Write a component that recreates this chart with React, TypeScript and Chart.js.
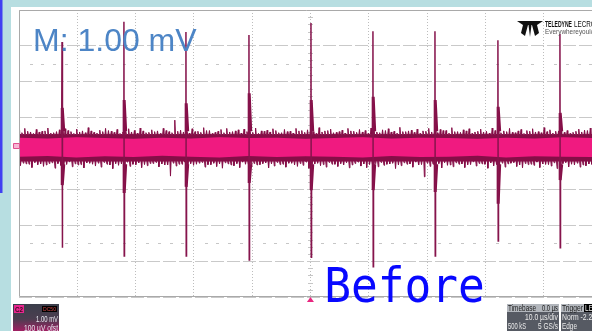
import { useEffect, useRef } from 'react';
import { Chart, registerables } from 'chart.js';

Chart.register(...registerables);

// ---- data (time in µs, amplitude in divisions of 1 mV) ----
const timeMaxUs = 98.3;
const gridStepUs = 10;
const hairStepUs = 0.99;

const upperHairPeaks = [
  0.64, 0.70, 0.60, 0.67, 0.62, 0.71, 0.58, 0.66, 0.69, 0.61,
  0.68, 0.63, 0.72, 0.59, 0.65, 0.70, 0.62, 0.67, 0.60, 0.69,
  0.64, 0.71, 0.58, 0.66, 0.63, 0.70, 0.61, 0.93, 0.65, 0.60,
  0.69, 0.62, 0.72, 0.64, 0.59, 0.67, 0.70, 0.61, 0.66, 0.68,
  0.60, 0.71, 0.63, 0.65, 0.69, 0.58, 0.67, 0.62, 0.70, 0.64,
  0.66, 0.61, 0.72, 0.63, 0.68, 0.59, 0.65, 0.70, 0.62, 0.67,
  0.64, 0.71, 0.60, 0.66, 0.69, 0.62, 0.73, 0.61, 0.65, 0.68,
  0.63, 0.70, 0.59, 0.67, 0.64, 0.72, 0.61, 0.66, 0.69, 0.60,
  0.68, 0.62, 0.71, 0.65, 0.63, 0.70, 0.58, 0.67, 0.64, 0.69,
  0.61, 0.72, 0.66, 0.62, 0.70, 0.64, 0.59, 0.68, 0.65, 0.71,
];
const upperHairMid = [
  0.58, 0.62, 0.56, 0.60, 0.63, 0.57, 0.61, 0.59, 0.64, 0.56,
  0.60, 0.58, 0.63, 0.57, 0.61, 0.64, 0.59, 0.56, 0.62, 0.60,
  0.57, 0.63, 0.59, 0.61, 0.56, 0.64, 0.58, 0.62, 0.60, 0.57,
  0.61, 0.59, 0.64, 0.56, 0.62, 0.58, 0.60, 0.63, 0.57, 0.61,
  0.59, 0.56, 0.62, 0.60, 0.64, 0.58, 0.61, 0.57, 0.63, 0.59,
  0.62, 0.56, 0.60, 0.64, 0.58, 0.61, 0.57, 0.63, 0.59, 0.60,
  0.56, 0.62, 0.58, 0.64, 0.60, 0.57, 0.61, 0.63, 0.59, 0.56,
  0.62, 0.60, 0.58, 0.64, 0.57, 0.61, 0.59, 0.63, 0.56, 0.62,
  0.60, 0.57, 0.64, 0.58, 0.61, 0.59, 0.63, 0.56, 0.62, 0.60,
  0.58, 0.61, 0.57, 0.63, 0.59, 0.56, 0.62, 0.60, 0.64, 0.58,
];
const lowerHairPeaks = [
  -0.34, -0.29, -0.39, -0.31, -0.36, -0.28, -0.41, -0.33, -0.30, -0.37,
  -0.32, -0.40, -0.27, -0.35, -0.38, -0.30, -0.42, -0.33, -0.29, -0.36,
  -0.31, -0.39, -0.34, -0.28, -0.37, -0.32, -0.63, -0.35, -0.30, -0.40,
  -0.33, -0.27, -0.38, -0.31, -0.36, -0.41, -0.29, -0.34, -0.39, -0.30,
  -0.37, -0.32, -0.28, -0.40, -0.35, -0.31, -0.38, -0.27, -0.36, -0.33,
  -0.41, -0.29, -0.34, -0.38, -0.30, -0.36, -0.32, -0.40, -0.28, -0.35,
  -0.39, -0.31, -0.37, -0.33, -0.29, -0.42, -0.34, -0.30, -0.38, -0.32,
  -0.65, -0.36, -0.28, -0.40, -0.33, -0.37, -0.30, -0.39, -0.31, -0.35,
  -0.29, -0.41, -0.34, -0.32, -0.38, -0.27, -0.36, -0.40, -0.31, -0.33,
  -0.39, -0.30, -0.35, -0.42, -0.28, -0.37, -0.32, -0.38, -0.34, -0.30,
];
const lowerHairMid = [
  -0.27, -0.30, -0.25, -0.29, -0.32, -0.26, -0.28, -0.31, -0.24, -0.29,
  -0.31, -0.26, -0.30, -0.27, -0.25, -0.32, -0.28, -0.29, -0.24, -0.30,
  -0.26, -0.31, -0.28, -0.25, -0.29, -0.32, -0.27, -0.30, -0.24, -0.28,
  -0.30, -0.25, -0.31, -0.27, -0.29, -0.26, -0.32, -0.28, -0.24, -0.30,
  -0.28, -0.31, -0.26, -0.29, -0.25, -0.30, -0.27, -0.32, -0.28, -0.24,
  -0.29, -0.27, -0.31, -0.25, -0.30, -0.28, -0.26, -0.32, -0.24, -0.29,
  -0.31, -0.28, -0.25, -0.30, -0.27, -0.32, -0.26, -0.29, -0.24, -0.31,
  -0.27, -0.30, -0.28, -0.25, -0.32, -0.26, -0.29, -0.31, -0.24, -0.28,
  -0.30, -0.26, -0.31, -0.27, -0.29, -0.25, -0.32, -0.28, -0.30, -0.24,
  -0.29, -0.31, -0.26, -0.28, -0.25, -0.30, -0.27, -0.32, -0.29, -0.26,
];
const upperHairBase = 0.53;
const lowerHairBase = -0.21;

const coreStepUs = 4.915;
const coreTop = [
  0.44, 0.42, 0.45, 0.43, 0.41, 0.44, 0.42, 0.45, 0.43, 0.44, 0.41,
  0.43, 0.45, 0.42, 0.44, 0.43, 0.41, 0.44, 0.42, 0.45, 0.43,
];
const coreBottom = [
  -0.09, -0.07, -0.11, -0.08, -0.10, -0.06, -0.09, -0.11, -0.07, -0.10, -0.08,
  -0.09, -0.11, -0.07, -0.10, -0.09, -0.06, -0.11, -0.08, -0.09, -0.10,
];

const spikeTimes = [7.38, 18.0, 28.64, 39.45, 50.09, 60.72, 71.36, 82.16, 92.8];
const spikeTops = [3.11, 3.67, 3.39, 3.30, 3.64, 3.41, 3.41, 3.16, 3.33];
const spikeBottoms = [-2.63, -2.86, -2.86, -2.97, -2.89, -3.16, -2.86, -2.44, -2.63];
const shoulderTops = [1.27, 1.49, 1.40, 1.68, 1.49, 1.58, 1.49, 1.30, 1.13];
const shoulderBottoms = [-0.88, -1.10, -0.93, -0.82, -1.02, -1.02, -1.07, -1.40, -0.74];

const measureLabel = 'M: 1.00 mV';
const captionLabel = 'Before';

type Pt = { x: number; y: number | null };

function hairLine(primary: number[], mid: number[], base: number, offset: number): Pt[] {
  const pts: Pt[] = [{ x: -0.5, y: base }];
  const w = 0.1;
  primary.forEach((p, i) => {
    const x1 = i * hairStepUs + offset;
    const x2 = x1 + hairStepUs / 2;
    pts.push({ x: x1 - w, y: base }, { x: x1, y: p }, { x: x1 + w, y: base });
    pts.push({ x: x2 - w, y: base }, { x: x2, y: mid[i] }, { x: x2 + w, y: base });
  });
  pts.push({ x: timeMaxUs + 0.5, y: base });
  return pts;
}

function coreLine(vals: number[]): Pt[] {
  const pts: Pt[] = vals.map((v, i) => ({ x: i * coreStepUs, y: v }));
  pts.unshift({ x: -0.5, y: vals[0] });
  pts.push({ x: timeMaxUs + 0.5, y: vals[vals.length - 1] });
  return pts;
}

function spikeLine(): Pt[] {
  const pts: Pt[] = [];
  spikeTimes.forEach((t, i) => {
    pts.push(
      { x: t - 0.06, y: upperHairBase },
      { x: t, y: spikeTops[i] },
      { x: t + 0.05, y: spikeBottoms[i] },
      { x: t + 0.1, y: lowerHairBase },
      { x: t + 0.11, y: null },
    );
  });
  return pts;
}

function shoulderLine(): Pt[] {
  const pts: Pt[] = [];
  spikeTimes.forEach((t, i) => {
    pts.push(
      { x: t + 0.04, y: upperHairBase },
      { x: t + 0.04, y: shoulderTops[i] },
      { x: t + 0.3, y: 0.62 },
      { x: t + 0.31, y: null },
      { x: t + 0.04, y: lowerHairBase },
      { x: t + 0.04, y: shoulderBottoms[i] },
      { x: t + 0.3, y: -0.3 },
      { x: t + 0.31, y: null },
    );
  });
  return pts;
}

const DARK = '#850e47';
const CORE = '#f01a80';

function fitText(ctx: CanvasRenderingContext2D, text: string, x: number, y: number, width: number, align: 'left' | 'right') {
  const w = ctx.measureText(text).width;
  const s = Math.min(1, width / w);
  ctx.save();
  ctx.translate(x, y);
  ctx.scale(s, 1);
  ctx.textAlign = align;
  ctx.fillText(text, 0, 0);
  ctx.restore();
}

const overlay = {
  id: 'scopeOverlay',
  beforeDraw(chart: any) {
    const { ctx, width, height } = chart;
    ctx.save();
    ctx.fillStyle = '#ffffff';
    ctx.fillRect(0, 0, width, height);
    ctx.fillStyle = '#b7dee1';
    ctx.fillRect(0, 0, width, 7);
    ctx.fillRect(0, 0, 11, height);
    ctx.fillStyle = '#4040f2';
    ctx.fillRect(0, 0, 2.5, 193);
    ctx.restore();
  },
  beforeDatasetsDraw(chart: any) {
    const { ctx } = chart;
    const x = chart.scales.x;
    const y = chart.scales.y;
    ctx.save();
    ctx.fillStyle = '#c6c6c6';
    for (const v of [2.5, -2.5]) {
      const py = Math.round(y.getPixelForValue(v));
      for (let t = 2; t < timeMaxUs; t += 2) {
        if (t % 10 === 0) continue;
        const px = Math.round(x.getPixelForValue(t));
        ctx.fillRect(px - 1, py, 3, 1);
      }
    }
    const cx = Math.round(x.getPixelForValue(50));
    for (let k = -20; k <= 20; k++) {
      if (k % 5 === 0) continue;
      const py = Math.round(y.getPixelForValue(k / 5));
      ctx.fillRect(cx - 2, py, 5, 1);
    }
    ctx.restore();
  },
  afterDatasetsDraw(chart: any) {
    const { ctx, chartArea } = chart;
    const x = chart.scales.x;
    ctx.save();
    // frame
    ctx.strokeStyle = '#a9a9a9';
    ctx.lineWidth = 1;
    ctx.beginPath();
    ctx.moveTo(chartArea.right + 1, chartArea.top + 0.5);
    ctx.lineTo(chartArea.left + 0.5, chartArea.top + 0.5);
    ctx.lineTo(chartArea.left + 0.5, chartArea.bottom - 0.5);
    ctx.lineTo(chartArea.right + 1, chartArea.bottom - 0.5);
    ctx.stroke();

    // trigger marker
    const tx = x.getPixelForValue(50);
    ctx.fillStyle = '#e8267f';
    ctx.beginPath();
    ctx.moveTo(tx, chartArea.bottom);
    ctx.lineTo(tx + 3.5, chartArea.bottom + 5);
    ctx.lineTo(tx - 3.5, chartArea.bottom + 5);
    ctx.closePath();
    ctx.fill();

    // channel marker at left
    ctx.fillStyle = '#f7b6d4';
    ctx.strokeStyle = '#e0508f';
    ctx.beginPath();
    ctx.rect(13.5, 143.5, 6, 5);
    ctx.fill();
    ctx.stroke();

    // measurement text
    ctx.font = '32px "Liberation Sans", Arial, sans-serif';
    ctx.fillStyle = '#4d85c6';
    ctx.textBaseline = 'alphabetic';
    ctx.textAlign = 'left';
    let m = ctx.measureText(measureLabel);
    ctx.fillText(measureLabel, 35 + m.actualBoundingBoxLeft, 51);

    // caption
    ctx.font = '48px "DejaVu Sans Mono", monospace';
    m = ctx.measureText(captionLabel);
    const w = m.actualBoundingBoxLeft + m.actualBoundingBoxRight;
    const sx = 156 / w;
    ctx.save();
    ctx.translate(327, 302);
    ctx.scale(sx, 1);
    ctx.fillStyle = '#0808ff';
    ctx.fillText(captionLabel, m.actualBoundingBoxLeft, 0);
    ctx.restore();

    // logo
    ctx.fillStyle = '#111111';
    ctx.beginPath();
    ctx.moveTo(517, 21);
    ctx.lineTo(543, 21);
    ctx.lineTo(537, 25);
    ctx.lineTo(523, 25);
    ctx.closePath();
    ctx.fill();
    ctx.beginPath();
    ctx.moveTo(523, 25);
    ctx.lineTo(528, 25);
    ctx.lineTo(525, 36);
    ctx.lineTo(521, 33);
    ctx.closePath();
    ctx.fill();
    ctx.beginPath();
    ctx.moveTo(528.5, 25);
    ctx.lineTo(531.5, 25);
    ctx.lineTo(530, 37);
    ctx.closePath();
    ctx.fill();
    ctx.beginPath();
    ctx.moveTo(532, 25);
    ctx.lineTo(537, 25);
    ctx.lineTo(539, 33);
    ctx.lineTo(535, 36);
    ctx.closePath();
    ctx.fill();
    ctx.fillStyle = '#111111';
    ctx.font = 'bold 9px "Liberation Sans", sans-serif';
    fitText(ctx, 'TELEDYNE', 545, 27, 27, 'left');
    ctx.font = '9px "Liberation Sans", sans-serif';
    fitText(ctx, 'LECROY', 574, 27, 26, 'left');
    ctx.font = '8px "Liberation Sans", sans-serif';
    ctx.fillStyle = '#555555';
    fitText(ctx, 'Everywhereyoulook', 545, 34, 56, 'left');

    // channel box
    const g = ctx.createLinearGradient(0, 304, 0, 331);
    g.addColorStop(0, '#3b3e4b');
    g.addColorStop(0.55, '#4b3e50');
    g.addColorStop(1, '#a01f62');
    ctx.fillStyle = g;
    ctx.fillRect(13, 304, 46, 27);
    ctx.fillStyle = '#e8268e';
    ctx.fillRect(14, 305, 10, 8);
    ctx.fillStyle = '#3a0a20';
    ctx.font = 'bold 7px "Liberation Sans", sans-serif';
    fitText(ctx, 'C2', 15, 312, 8, 'left');
    ctx.fillStyle = '#000000';
    ctx.fillRect(42, 306, 15, 6);
    ctx.fillStyle = '#d04848';
    ctx.font = '6px "Liberation Sans", sans-serif';
    fitText(ctx, 'DC50', 43, 311, 13, 'left');
    ctx.fillStyle = '#e6e6ee';
    ctx.font = '9px "Liberation Sans", sans-serif';
    fitText(ctx, '1.00 mV', 58, 322, 22, 'right');
    fitText(ctx, '100 µV ofst', 58, 331, 34, 'right');

    // timebase / trigger boxes
    ctx.fillStyle = '#565a63';
    ctx.fillRect(507, 304, 52, 27);
    ctx.fillRect(561, 304, 31, 27);
    ctx.fillStyle = '#b2b6bc';
    ctx.fillRect(507, 304, 52, 8);
    ctx.fillRect(561, 304, 31, 8);
    ctx.fillStyle = '#000000';
    ctx.fillRect(584, 304, 8, 8);
    ctx.font = '9px "Liberation Sans", sans-serif';
    ctx.fillStyle = '#1c1c1c';
    fitText(ctx, 'Timebase', 508, 311, 28, 'left');
    fitText(ctx, 'Trigger', 562, 311, 21, 'left');
    fitText(ctx, '0.0 µs', 558, 311, 16, 'right');
    ctx.fillStyle = '#ebebeb';
    fitText(ctx, '10.0 µs/div', 558, 320, 33, 'right');
    fitText(ctx, '5 GS/s', 558, 329, 20, 'right');
    fitText(ctx, '500 kS', 508, 329, 18, 'left');
    fitText(ctx, 'Norm -2.26', 562, 320, 34, 'left');
    fitText(ctx, 'Edge', 562, 329, 15, 'left');
    fitText(ctx, 'LE', 585, 311, 8, 'left');
    ctx.restore();
  },
};

export default function App() {
  const ref = useRef<HTMLCanvasElement | null>(null);
  useEffect(() => {
    if (!ref.current) return;
    const chart = new Chart(ref.current, {
      type: 'line',
      data: {
        datasets: [
          {
            data: spikeLine() as any,
            borderColor: '#86144c',
            borderWidth: 1.5,
            pointRadius: 0,
            fill: false,
            spanGaps: false,
            order: 1,
          },
          {
            data: shoulderLine() as any,
            borderColor: DARK,
            borderWidth: 3,
            pointRadius: 0,
            fill: false,
            spanGaps: false,
            order: 2,
          },
          {
            data: coreLine(coreTop) as any,
            borderWidth: 0,
            borderColor: CORE,
            backgroundColor: CORE,
            pointRadius: 0,
            fill: 3,
            order: 4,
          },
          {
            data: coreLine(coreBottom) as any,
            borderWidth: 0,
            borderColor: CORE,
            pointRadius: 0,
            fill: false,
            order: 4,
          },
          {
            data: hairLine(upperHairPeaks, upperHairMid, upperHairBase, 0) as any,
            borderColor: DARK,
            backgroundColor: DARK,
            borderWidth: 1,
            pointRadius: 0,
            fill: 5,
            order: 6,
          },
          {
            data: hairLine(lowerHairPeaks, lowerHairMid, lowerHairBase, hairStepUs / 4) as any,
            borderColor: DARK,
            borderWidth: 1,
            pointRadius: 0,
            fill: false,
            order: 5,
          },
        ],
      },
      options: {
        responsive: false,
        animation: false,
        devicePixelRatio: 1,
        layout: { padding: { left: 19, top: 10, right: 0, bottom: 34 } },
        plugins: {
          legend: { display: false },
          tooltip: { enabled: false },
          title: { display: false },
        },
        elements: { line: { tension: 0 } },
        scales: {
          x: {
            type: 'linear',
            min: 0,
            max: timeMaxUs,
            ticks: { display: false, stepSize: gridStepUs },
            grid: {
              drawTicks: false,
              color: (c: any) =>
                c.tick && Math.abs(c.tick.value % gridStepUs) < 1e-6 ? '#bdbdbd' : 'rgba(0,0,0,0)',
            },
            border: { display: false, dash: [1, 2] },
          },
          y: {
            type: 'linear',
            min: -4,
            max: 4,
            ticks: { display: false, stepSize: 1 },
            grid: { drawTicks: false, color: '#c9c9c9' },
            border: { display: false, dash: [13, 3] },
          },
        },
      },
      plugins: [overlay],
    } as any);
    return () => chart.destroy();
  }, []);
  return (
    <div style={{ position: 'fixed', left: 0, top: 0, width: 592, height: 331 }}>
      <canvas ref={ref} width={592} height={331} style={{ display: 'block' }} />
    </div>
  );
}
